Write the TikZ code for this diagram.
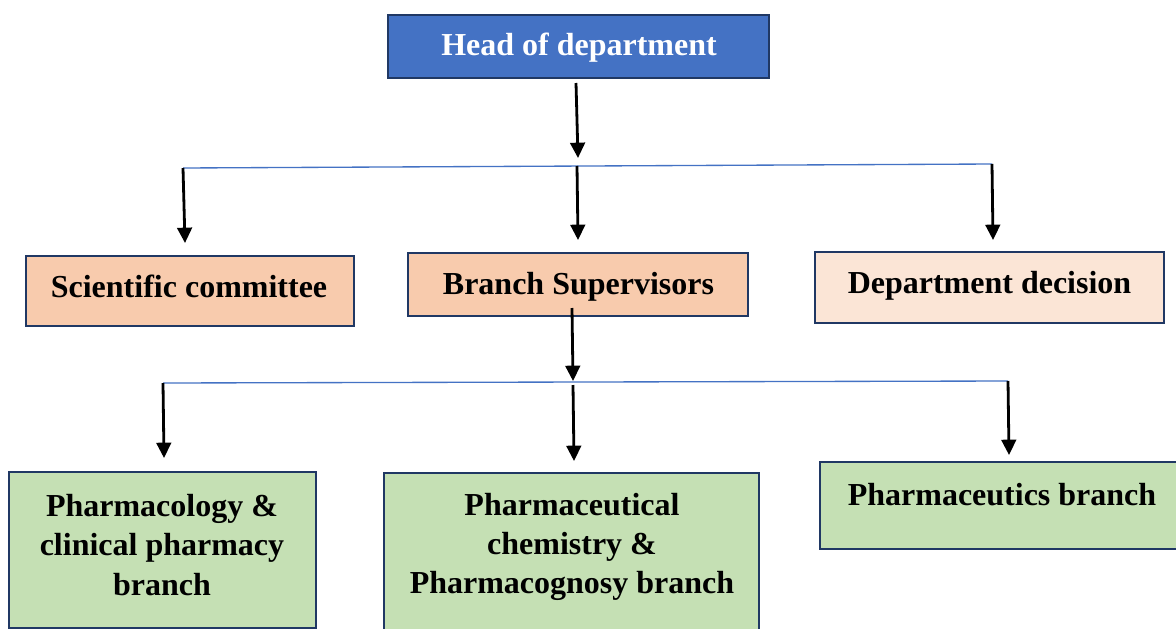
\documentclass[tikz,border=0pt]{standalone}
\usepackage{fontspec}
\setmainfont{Liberation Serif}[BoldFont={Liberation Serif Bold}]
\usetikzlibrary{arrows.meta}
\definecolor{headblue}{HTML}{4472C4}
\definecolor{navy}{HTML}{203864}
\definecolor{peach}{HTML}{F8CBAD}
\definecolor{lightpeach}{HTML}{FBE5D6}
\definecolor{lightgreen}{HTML}{C5E0B4}
\tikzset{
  box/.style={draw=navy, line width=1.6pt, rectangle, inner sep=0pt},
  lbl/.style={font=\bfseries\fontsize{24}{29.3}\selectfont, align=center, inner sep=0pt, text=black},
  arr/.style={line width=2.1pt, -{Triangle[length=11.5pt,width=11pt]}},
  bar/.style={draw=headblue, line width=1pt},
}
\begin{document}
\begin{tikzpicture}[x=0.75pt,y=-0.75pt]
\useasboundingbox (0,0) rectangle (1176,628);
\fill[white] (0,0) rectangle (1176,628);
\begin{scope}
\clip (0,0) rectangle (1176,628);
% boxes
\node[box, fill=headblue, minimum width=381*0.75pt, minimum height=63*0.75pt] (head) at (578.5,46.5) {};
\node[box, fill=peach, minimum width=328*0.75pt, minimum height=70*0.75pt] (sci) at (190,291) {};
\node[box, fill=peach, minimum width=340*0.75pt, minimum height=63*0.75pt] (sup) at (578,284.5) {};
\node[box, fill=lightpeach, minimum width=349*0.75pt, minimum height=71*0.75pt] (dec) at (989.5,287.5) {};
\node[box, fill=lightgreen, minimum width=307*0.75pt, minimum height=156*0.75pt] (pcl) at (162.5,550) {};
\node[box, fill=lightgreen, minimum width=375*0.75pt, minimum height=170*0.75pt] (pch) at (571.5,558) {};
\node[box, fill=lightgreen, minimum width=370*0.75pt, minimum height=87*0.75pt] (pce) at (1005,505.5) {};
% texts
\node[lbl, text=white, anchor=base] (thead) at (579,55) {Head of department};
\node[lbl, anchor=base] (tsci) at (189,297) {Scientific committee};
\node[lbl, anchor=base] (tsup) at (578.5,294) {Branch Supervisors};
\node[lbl, anchor=base] (tdec) at (989.5,293) {Department decision};
\node[lbl, anchor=base] (tpce) at (1002,505) {Pharmaceutics branch};
\node[lbl] (tpcl) at (162,545) {Pharmacology \&\\clinical pharmacy\\branch};
\node[lbl] (tpch) at (572,547) {Pharmaceutical\\chemistry \&\\Pharmacognosy branch};
% connector points
\coordinate (h1) at (576,83);
\coordinate (h2) at (578,158);
\coordinate (l1a) at (183,168);
\coordinate (l1m) at (577,166);
\coordinate (l1b) at (992,164);
\coordinate (s1) at (185,243);
\coordinate (s2) at (578,240);
\coordinate (s3) at (993,240);
\coordinate (b1) at (572,308);
\coordinate (b2) at (573,381);
\coordinate (l2a) at (163,383);
\coordinate (l2m) at (573,385);
\coordinate (l2b) at (1008,381);
\coordinate (g1) at (164,458);
\coordinate (g2) at (574,461);
\coordinate (g3) at (1009,455);
% bars
\draw[bar] (l1a) -- (l1b);
\draw[bar] (l2a) -- (l2b);
% arrows
\draw[arr] (h1) -- (h2);
\draw[arr] (l1a) -- (s1);
\draw[arr] (l1m) -- (s2);
\draw[arr] (l1b) -- (s3);
\draw[arr] (b1) -- (b2);
\draw[arr] (l2a) -- (g1);
\draw[arr] (l2m) -- (g2);
\draw[arr] (l2b) -- (g3);
\end{scope}
\end{tikzpicture}
\end{document}
